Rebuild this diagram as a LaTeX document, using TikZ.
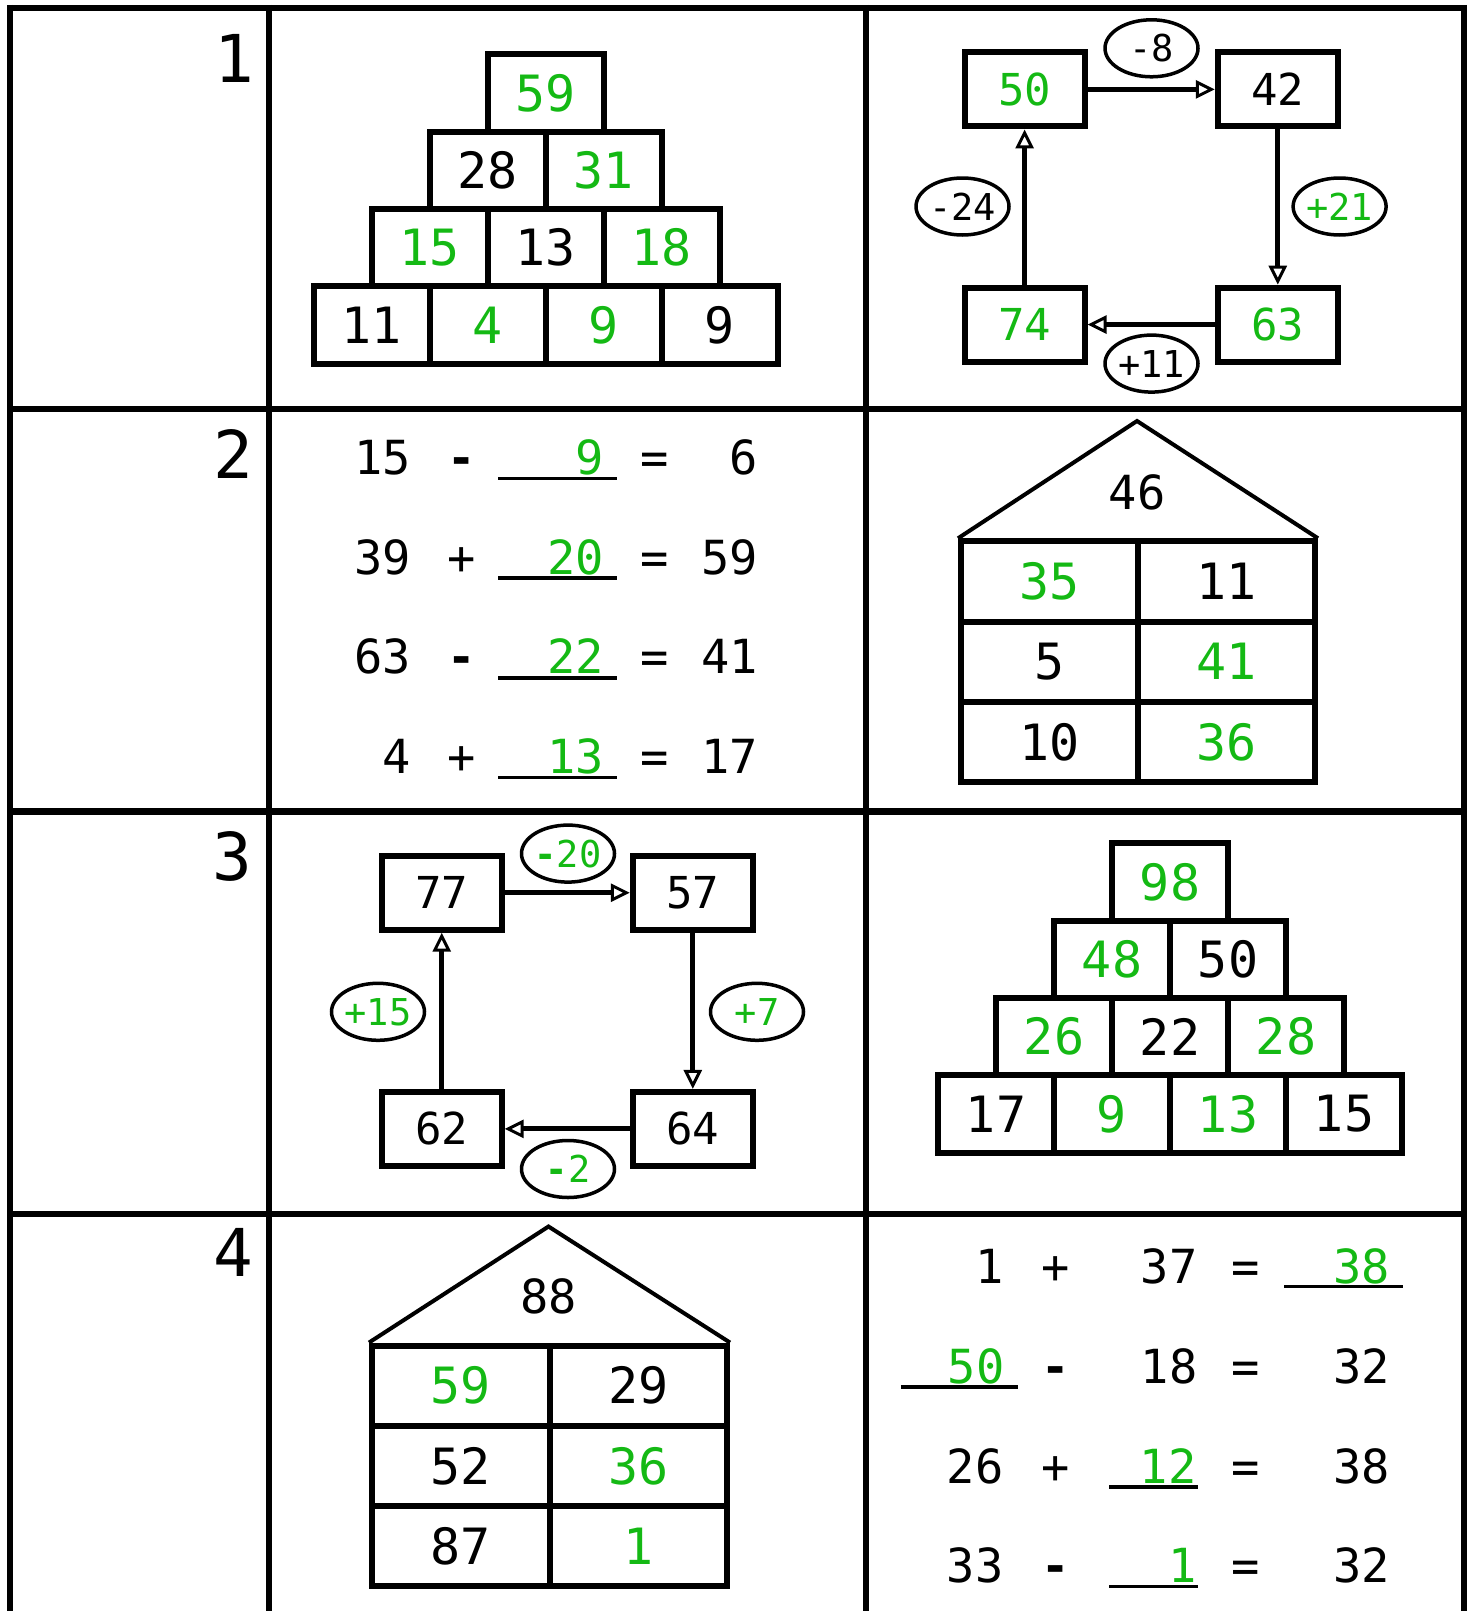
\documentclass[tikz,border=0pt]{standalone}
\usepackage{fontspec}
\setmainfont{DejaVu Sans Mono}
\usetikzlibrary{arrows.meta,shapes.geometric}
\definecolor{ansgreen}{RGB}{20,185,20}
\newcommand{\ov}[1]{\makebox[0pt]{#1}}
\begin{document}
\begin{tikzpicture}[x=1pt,y=-1pt,
  gridline/.style={line width=6.5pt},
  pcell/.style={draw, line width=6pt, minimum width=116pt, minimum height=77.3pt, inner sep=0pt, font=\fontsize{50}{50}\selectfont},
  cbox/.style={draw, line width=6pt, minimum width=120pt, minimum height=74pt, inner sep=0pt, font=\fontsize{44}{44}\selectfont},
  oval/.style={draw, ellipse, line width=3.5pt, minimum width=93pt, minimum height=57pt, inner sep=0pt, fill=white, font=\fontsize{37}{37}\selectfont},
  arr/.style={line width=5pt, -{Triangle[open, length=19pt, width=18pt, line width=3pt]}},
  hcell/.style={draw, line width=6pt, minimum height=80.2pt, inner sep=0pt, font=\fontsize{50}{50}\selectfont},
  roof/.style={line width=4pt, line join=miter},
  rooftext/.style={inner sep=0pt, font=\fontsize{47}{47}\selectfont},
  eqr/.style={inner sep=0pt, anchor=base east, font=\fontsize{47}{47}\selectfont},
  eqc/.style={inner sep=0pt, anchor=base, font=\fontsize{47}{47}\selectfont},
  uline/.style={line width=3.5pt},
  lbl/.style={inner sep=0pt, anchor=base east, font=\fontsize{66}{66}\selectfont},
  g/.style={text=ansgreen}]
\useasboundingbox (0,0) rectangle (1474,1611);
\fill[white] (0,0) rectangle (1474,1611);

% grid
\draw[gridline] (10,8) -- (1464,8);
\draw[gridline] (10,409) -- (1464,409);
\draw[gridline] (10,811.5) -- (1464,811.5);
\draw[gridline] (10,1214) -- (1464,1214);
\draw[gridline] (10,5) -- (10,1615);
\draw[gridline] (269,5) -- (269,1615);
\draw[gridline] (866,5) -- (866,1615);
\draw[gridline] (1464,5) -- (1464,1615);

% row labels
\node[lbl] (l1) at (254,82.2) {1};
\node[lbl] (l2) at (253,478.7) {2};
\node[lbl] (l3) at (252,880.3) {3};
\node[lbl] (l4) at (253,1276.8) {4};

% ---- pyramid 1
\node[pcell,g] (pa00) at (545.5,93.15) {59};
\node[pcell]   (pa10) at (487.5,170.45) {28};
\node[pcell,g] (pa11) at (603.5,170.45) {31};
\node[pcell,g] (pa20) at (429.5,247.75) {15};
\node[pcell]   (pa21) at (545.5,247.75) {13};
\node[pcell,g] (pa22) at (661.5,247.75) {18};
\node[pcell]   (pa30) at (371.5,325.05) {11};
\node[pcell,g] (pa31) at (487.5,325.05) {4};
\node[pcell,g] (pa32) at (603.5,325.05) {9};
\node[pcell]   (pa33) at (719.5,325.05) {9};

% ---- cycle 1
\node[cbox,g] (ca1) at (1024.6,89.4) {50};
\node[cbox]   (ca2) at (1277.8,89.4) {42};
\node[cbox,g] (ca3) at (1277.8,324.6) {63};
\node[cbox,g] (ca4) at (1024.6,324.6) {74};
\draw[arr] (ca1.east) -- (ca2.west);
\draw[arr] (ca2.south) -- (ca3.north);
\draw[arr] (ca3.west) -- (ca4.east);
\draw[arr] (ca4.north) -- (ca1.south);
\node[oval]   (oa1) at (1151.5,48.3) {\ov{-8}};
\node[oval,g] (oa2) at (1339.6,206.5) {\ov{+21}};
\node[oval]   (oa3) at (1151.5,363.6) {\ov{+11}};
\node[oval]   (oa4) at (962.5,206.5) {\ov{-24}};

% ---- equations (row 2, left)
\node[eqr] (ea1) at (410.9,474.6) {15};
\node[eqc] (eo1) at (461.2,474.6) {\textbf{-}};
\node[eqr,g] (ex1) at (604,474.6) {9};
\node[eqc] (eq1) at (654.3,474.6) {=};
\node[eqr] (er1) at (758,474.6) {6};
\draw[uline] (498.2,478.6) -- (617.3,478.6);

\node[eqr] (ea2) at (410.9,574.2) {39};
\node[eqc] (eo2) at (461.2,574.2) {+};
\node[eqr,g] (ex2) at (604,574.2) {20};
\node[eqc] (eq2) at (654.3,574.2) {=};
\node[eqr] (er2) at (758,574.2) {59};
\draw[uline] (498.2,578.2) -- (617.3,578.2);

\node[eqr] (ea3) at (410.9,673.8) {63};
\node[eqc] (eo3) at (461.2,673.8) {\textbf{-}};
\node[eqr,g] (ex3) at (604,673.8) {22};
\node[eqc] (eq3) at (654.3,673.8) {=};
\node[eqr] (er3) at (758,673.8) {41};
\draw[uline] (498.2,677.8) -- (617.3,677.8);

\node[eqr] (ea4) at (410.9,773.5) {4};
\node[eqc] (eo4) at (461.2,773.5) {+};
\node[eqr,g] (ex4) at (604,773.5) {13};
\node[eqc] (eq4) at (654.3,773.5) {=};
\node[eqr] (er4) at (758,773.5) {17};
\draw[uline] (498.2,777.5) -- (617.3,777.5);

% ---- house A (row 2, right)
\node[hcell,minimum width=177pt,g] (ha11) at (1049.5,581.4) {35};
\node[hcell,minimum width=177pt]   (ha12) at (1226.5,581.4) {11};
\node[hcell,minimum width=177pt]   (ha21) at (1049.5,661.6) {5};
\node[hcell,minimum width=177pt,g] (ha22) at (1226.5,661.6) {41};
\node[hcell,minimum width=177pt]   (ha31) at (1049.5,741.8) {10};
\node[hcell,minimum width=177pt,g] (ha32) at (1226.5,741.8) {36};
\coordinate (hatop) at (1137,421);
\draw[roof] (ha11.north west) -- (hatop) -- (ha12.north east);
\node[rooftext] (har) at (1137,492) {46};

% ---- cycle 2 (row 3, left)
\node[cbox] (cb1) at (441.7,892.7) {77};
\node[cbox] (cb2) at (692.8,892.7) {57};
\node[cbox] (cb3) at (692.8,1128.9) {64};
\node[cbox] (cb4) at (441.7,1128.9) {62};
\draw[arr] (cb1.east) -- (cb2.west);
\draw[arr] (cb2.south) -- (cb3.north);
\draw[arr] (cb3.west) -- (cb4.east);
\draw[arr] (cb4.north) -- (cb1.south);
\node[oval,g] (ob1) at (568,853.6) {\ov{\textbf{-}20}};
\node[oval,g] (ob2) at (757,1011.8) {\ov{+7}};
\node[oval,g] (ob3) at (568,1169) {\ov{\textbf{-}2}};
\node[oval,g] (ob4) at (378,1011.8) {\ov{+15}};

% ---- pyramid 2 (row 3, right)
\node[pcell,g] (pb00) at (1170,881.95) {98};
\node[pcell,g] (pb10) at (1112,959.25) {48};
\node[pcell]   (pb11) at (1228,959.25) {50};
\node[pcell,g] (pb20) at (1054,1036.55) {26};
\node[pcell]   (pb21) at (1170,1036.55) {22};
\node[pcell,g] (pb22) at (1286,1036.55) {28};
\node[pcell]   (pb30) at (996,1113.85) {17};
\node[pcell,g] (pb31) at (1112,1113.85) {9};
\node[pcell,g] (pb32) at (1228,1113.85) {13};
\node[pcell]   (pb33) at (1344,1113.85) {15};

% ---- house B (row 4, left)
\node[hcell,minimum width=177.5pt,g] (hb11) at (460.75,1385.65) {59};
\node[hcell,minimum width=177.5pt]   (hb12) at (638.25,1385.65) {29};
\node[hcell,minimum width=177.5pt]   (hb21) at (460.75,1465.85) {52};
\node[hcell,minimum width=177.5pt,g] (hb22) at (638.25,1465.85) {36};
\node[hcell,minimum width=177.5pt]   (hb31) at (460.75,1546.05) {87};
\node[hcell,minimum width=177.5pt,g] (hb32) at (638.25,1546.05) {1};
\coordinate (hbtop) at (548.5,1226.5);
\draw[roof] (hb11.north west) -- (hbtop) -- (hb12.north east);
\node[rooftext] (hbr) at (548.5,1296) {88};

% ---- equations (row 4, right)
\node[eqr] (fa1) at (1003.6,1283) {1};
\node[eqc] (fo1) at (1056,1283) {+};
\node[eqr] (fb1) at (1197.7,1283) {37};
\node[eqc] (fq1) at (1246,1283) {=};
\node[eqr,g] (fr1) at (1389.8,1283) {38};
\draw[uline] (1284,1286.5) -- (1403,1286.5);

\node[eqr,g] (fa2) at (1004.6,1383.6) {50};
\node[eqc] (fo2) at (1056,1383.6) {\textbf{-}};
\node[eqr] (fb2) at (1197.7,1383.6) {18};
\node[eqc] (fq2) at (1246,1383.6) {=};
\node[eqr] (fr2) at (1389.8,1383.6) {32};
\draw[uline] (900.8,1387.1) -- (1018,1387.1);

\node[eqr] (fa3) at (1003.6,1483.3) {26};
\node[eqc] (fo3) at (1056,1483.3) {+};
\node[eqr,g] (fb3) at (1196.7,1483.3) {12};
\node[eqc] (fq3) at (1246,1483.3) {=};
\node[eqr] (fr3) at (1389.8,1483.3) {38};
\draw[uline] (1109.4,1486.8) -- (1197.7,1486.8);

\node[eqr] (fa4) at (1003.6,1582.9) {33};
\node[eqc] (fo4) at (1056,1582.9) {\textbf{-}};
\node[eqr,g] (fb4) at (1196.7,1582.9) {1};
\node[eqc] (fq4) at (1246,1582.9) {=};
\node[eqr] (fr4) at (1389.8,1582.9) {32};
\draw[uline] (1109.4,1586.4) -- (1197.7,1586.4);
\end{tikzpicture}
\end{document}
